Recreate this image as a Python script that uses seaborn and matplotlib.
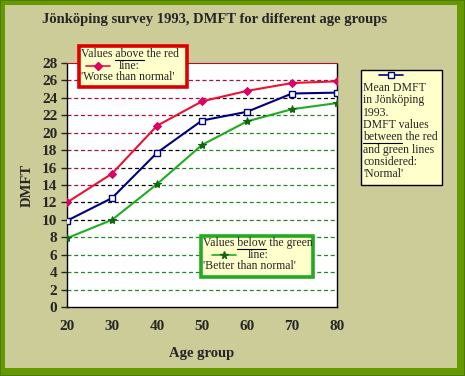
import numpy as np
import pandas as pd
import seaborn as sns
import matplotlib
matplotlib.use("Agg")
import matplotlib.pyplot as plt
from matplotlib.patches import Rectangle
from matplotlib.lines import Line2D

# data
ages = [20, 30, 40, 50, 60, 70, 80]
worse_line = [12.0, 15.3, 20.8, 23.6, 24.8, 25.7, 25.9]
mean_dmft = [9.9, 12.5, 17.7, 21.4, 22.4, 24.5, 24.6]
better_line = [7.9, 10.0, 14.1, 18.6, 21.3, 22.7, 23.4]
y_ticks = list(range(0, 30, 2))

title = "Jönköping survey 1993, DMFT for different age groups"

RED = "#EE1133"
RED_MK = "#DD0066"
NAVY = "#000080"
GREEN = "#22AA22"
GREEN_MK = "#116611"
KHAKI = "#CCCC99"
FRAME = "#669900"
NOTE_BG = "#FFFFCC"
SERIF = ["Liberation Serif", "DejaVu Serif"]

sns.set_style("white")
plt.rcParams["font.family"] = SERIF

W, H = 465, 376
fig = plt.figure(figsize=(W / 100, H / 100), dpi=100)
fig.patch.set_facecolor("#4E7A00")


def fx(px):
    return px / W


def fy(py):
    return 1 - py / H


def frect(x0, y0, x1, y1, **kw):
    r = Rectangle((fx(x0), fy(y1)), fx(x1) - fx(x0), fy(y0) - fy(y1),
                  transform=fig.transFigure, **kw)
    fig.patches.append(r)
    return r


# page frame
frect(1, 1, 464, 375, facecolor=FRAME, edgecolor="none", zorder=-10)
frect(5, 5, 457, 368, facecolor=KHAKI, edgecolor="none", zorder=-9)

ax = fig.add_axes([fx(67), fy(307), fx(337) - fx(67), fy(63) - fy(307)])
ax.set_facecolor("white")

df = pd.DataFrame({"age": ages, "worse": worse_line,
                   "mean": mean_dmft, "better": better_line})

# coloured grid: red above red line, black between, green below green line
levels = y_ticks[1:-1]
regions = [
    (ax.fill_between(ages, worse_line, 40, color="none", lw=0), "#AA1133"),
    (ax.fill_between(ages, better_line, worse_line, color="none", lw=0), "black"),
    (ax.fill_between(ages, -5, better_line, color="none", lw=0), "#228822"),
]
for poly, col in regions:
    hl = ax.hlines(levels, 20, 80, colors=col, linewidth=0.9,
                   linestyles=(0, (3.2, 2.2)), zorder=1)
    hl.set_clip_path(poly.get_paths()[0], ax.transData)

sns.lineplot(data=df, x="age", y="worse", ax=ax, color=RED, linewidth=1.5,
             marker="D", markersize=4, markerfacecolor=RED_MK,
             markeredgecolor=RED_MK, zorder=3)
sns.lineplot(data=df, x="age", y="mean", ax=ax, color=NAVY, linewidth=1.5,
             marker="s", markersize=4.2, markerfacecolor="white",
             markeredgecolor=NAVY, markeredgewidth=1.0, zorder=4)
sns.lineplot(data=df, x="age", y="better", ax=ax, color=GREEN, linewidth=1.5,
             marker="*", markersize=6, markerfacecolor=GREEN_MK,
             markeredgecolor=GREEN_MK, zorder=3)

ax.set_xlim(20, 80)
ax.set_ylim(0, 28)
ax.set_xticks(ages)
ax.set_yticks(y_ticks)
ax.tick_params(axis="x", direction="inout", length=7, width=1, pad=6,
               labelsize=11)
ax.tick_params(axis="y", direction="out", length=4, width=1, pad=3,
               labelsize=11, left=True)
for lab in ax.get_xticklabels() + ax.get_yticklabels():
    lab.set_fontweight("bold")
ax.set_xlabel("Age group", fontsize=10.5, fontweight="bold", labelpad=10)
ax.set_ylabel("DMFT", fontsize=10.5, fontweight="bold", labelpad=6)
for side in ["left", "bottom", "right"]:
    ax.spines[side].set_visible(True)
    ax.spines[side].set_linestyle((0, (1, 1)))
    ax.spines[side].set_color("black")
    ax.spines[side].set_linewidth(1)
ax.spines["top"].set_visible(True)
ax.spines["top"].set_linestyle((0, (1, 1)))
ax.spines["top"].set_color("#AA1133")

fig.text(fx(42), fy(20), title, fontsize=10.5, fontweight="bold",
         ha="left", va="center")

renderer = fig.canvas.get_renderer()


def width_px(s, size):
    t = fig.text(0, 0, s + "x", fontsize=size)
    t2 = fig.text(0, 0, "x", fontsize=size)
    w = t.get_window_extent(renderer).width - t2.get_window_extent(renderer).width
    t.remove()
    t2.remove()
    return w


def note(x_px, y_px, s, underline=None, size=8.5):
    fig.text(fx(x_px), fy(y_px), s, fontsize=size, ha="left", va="center",
             zorder=10)
    if underline:
        i = s.index(underline)
        x0 = x_px + width_px(s[:i], size)
        x1 = x_px + width_px(s[:i + len(underline)], size)
        fig.lines.append(Line2D([fx(x0), fx(x1)], [fy(y_px + 6), fy(y_px + 6)],
                                transform=fig.transFigure, color="black",
                                linewidth=0.8, zorder=10))


def sample(x0, x1, y, color, marker, mfc, mec, ms):
    fig.lines.append(Line2D([fx(x0), fx(x1)], [fy(y), fy(y)],
                            transform=fig.transFigure, color=color,
                            linewidth=1.2, zorder=10))
    fig.lines.append(Line2D([fx((x0 + x1) / 2)], [fy(y)],
                            transform=fig.transFigure, marker=marker,
                            markersize=ms, markerfacecolor=mfc,
                            markeredgecolor=mec, linestyle="none", zorder=11))


# red note
frect(78.5, 46.5, 186.5, 86.5, facecolor=NOTE_BG, edgecolor="#DD0000",
      linewidth=2.6, zorder=9)
note(81, 54, "Values above the red", underline="above")
sample(86, 110, 66, RED, "D", RED_MK, RED_MK, 4.5)
note(119, 66, "line:")
note(81, 77, "'Worse than normal'")

# green note
frect(200.5, 235.5, 313, 276.5, facecolor=NOTE_BG, edgecolor="#22AA22",
      linewidth=2.6, zorder=9)
note(203, 243, "Values below the green", underline="below")
sample(212, 236, 255, GREEN, "*", GREEN_MK, GREEN_MK, 5.5)
note(248, 255, "line:")
note(203, 266, "'Better than normal'")

# mean note
frect(361, 70, 442, 185, facecolor=NOTE_BG, edgecolor="black",
      linewidth=1.0, zorder=9)
sample(379, 403, 75, NAVY, "s", "white", NAVY, 4.5)
right_lines = ["Mean DMFT", "in Jönköping", "1993.", "DMFT values",
               "between the red", "and green lines", "considered:", "'Normal'"]
for k, s in enumerate(right_lines):
    note(363, 88 + k * 12.3, s,
         underline="between" if s.startswith("between") else None)

fig.savefig("out.png", dpi=100, facecolor=fig.get_facecolor())
